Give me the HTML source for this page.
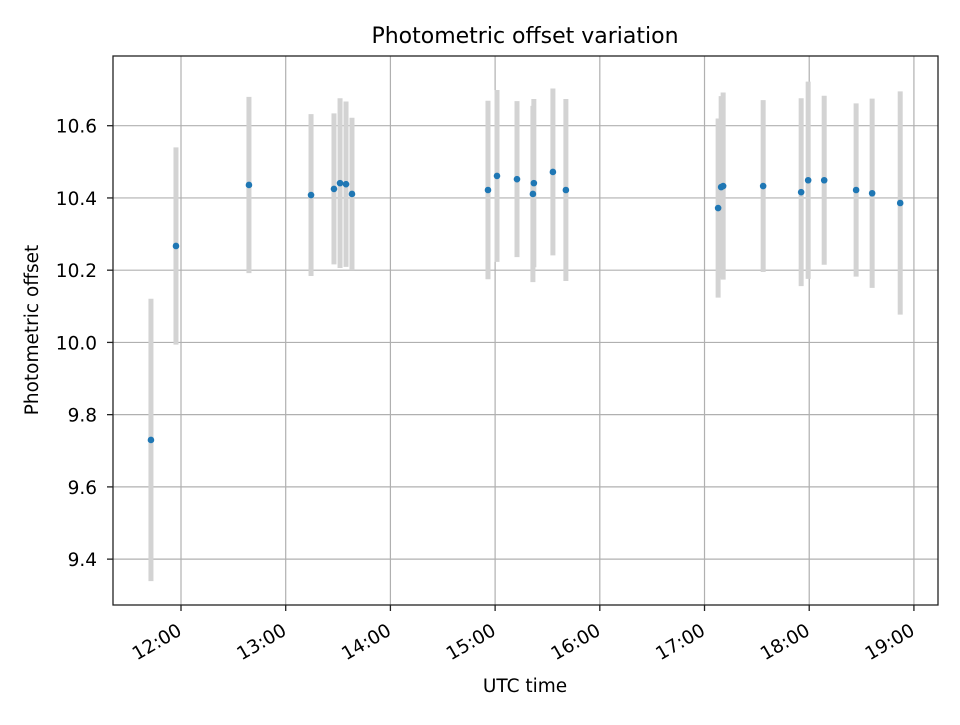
<!DOCTYPE html>
<html><head><meta charset="utf-8"><style>body{margin:0;background:#fff}svg text{font-family:"DejaVu Sans","Liberation Sans",sans-serif;fill:#000}</style></head>
<body>
<svg id="chart" width="960" height="720" xmlns="http://www.w3.org/2000/svg">
<rect width="960" height="720" fill="#fff"/>
<g id="grid"></g>
<g id="bars"></g>
<g id="pts"></g>
<rect x="113" y="56" width="825" height="549" fill="none" stroke="#222" stroke-width="1.3"/>
<g id="ticks"></g>
<text x="525" y="43" text-anchor="middle" font-size="22">Photometric offset variation</text>
<text x="525" y="692" text-anchor="middle" font-size="18.5">UTC time</text>
<text transform="translate(38,330) rotate(-90)" text-anchor="middle" font-size="18.5">Photometric offset</text>
</svg>
<script>
const times=[11.713,11.952,12.649,13.242,13.461,13.519,13.576,13.633,14.932,15.018,15.209,15.361,15.370,15.552,15.676,17.130,17.159,17.178,17.560,17.923,17.990,18.143,18.448,18.601,18.869];
const offsets=[9.730,10.267,10.436,10.408,10.425,10.441,10.438,10.411,10.422,10.461,10.452,10.411,10.441,10.472,10.422,10.372,10.430,10.433,10.433,10.416,10.449,10.449,10.422,10.413,10.386];
const errors=[0.391,0.273,0.244,0.224,0.209,0.235,0.229,0.211,0.247,0.238,0.216,0.244,0.233,0.231,0.252,0.248,0.252,0.259,0.238,0.260,0.273,0.234,0.240,0.262,0.309];
const xTicks=[12,13,14,15,16,17,18,19];
const xTickLabels=["12:00","13:00","14:00","15:00","16:00","17:00","18:00","19:00"];
const yTicks=[9.4,9.6,9.8,10.0,10.2,10.4,10.6];
const yTickLabels=["9.4","9.6","9.8","10.0","10.2","10.4","10.6"];
const X0=113,X1=938,Y0=56,Y1=605,T0=11.3505,T1=19.230,V0=9.273,V1=10.793;
const xs=t=>X0+(t-T0)/(T1-T0)*(X1-X0);
const ys=v=>Y1-(v-V0)/(V1-V0)*(Y1-Y0);
const NS="http://www.w3.org/2000/svg";
function mk(tag,attrs,parent){const e=document.createElementNS(NS,tag);for(const k in attrs)e.setAttribute(k,attrs[k]);document.getElementById(parent).appendChild(e);return e;}
xTicks.forEach((t,i)=>{const x=xs(t);
 let g=mk('line',{x1:x,x2:x,y1:Y0,y2:Y1,stroke:'#b0b0b0','stroke-width':1.2},'grid');
 
 let tk=mk('line',{x1:x,x2:x,y1:Y1,y2:Y1+6,stroke:'#222','stroke-width':1.3},'ticks');
 
 let tx=mk('text',{transform:`translate(${x+2},${Y1+29}) rotate(-30)`,'text-anchor':'end','font-size':'18.5'},'ticks');
 tx.textContent=xTickLabels[i];
 });
yTicks.forEach((v,i)=>{const y=ys(v);
 let g=mk('line',{x1:X0,x2:X1,y1:y,y2:y,stroke:'#b0b0b0','stroke-width':1.2},'grid');
 
 let tk=mk('line',{x1:X0-6,x2:X0,y1:y,y2:y,stroke:'#222','stroke-width':1.3},'ticks');
 
 let tx=mk('text',{x:X0-16,y:y+7,'text-anchor':'end','font-size':'18.5'},'ticks');
 tx.textContent=yTickLabels[i];
 });
times.forEach((t,i)=>{const x=xs(t);
 let b=mk('line',{x1:x,x2:x,y1:ys(offsets[i]+errors[i]),y2:ys(offsets[i]-errors[i]),stroke:'#d3d3d3','stroke-width':5},'bars');
 
 let c=mk('circle',{cx:x,cy:ys(offsets[i]),r:3.3,fill:'#1f77b4'},'pts');
 });
</script>
</body></html>
